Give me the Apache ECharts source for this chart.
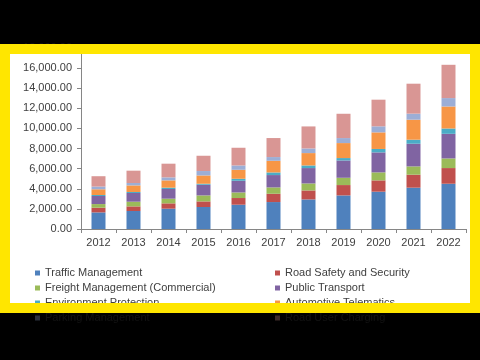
<!DOCTYPE html>
<html>
<head>
<meta charset="utf-8">
<script src="https://cdn.jsdelivr.net/npm/echarts@6/dist/echarts.min.js"></script>
<style>
  html, body { margin: 0; padding: 0; background: #000; width: 480px; height: 360px; overflow: hidden; }
  .lay { position: absolute; }
  #white { left: 10px; top: 54px; width: 460px; height: 249px; background: #fff; z-index: 0; }
  #chart { left: 0; top: 0; width: 480px; height: 360px; z-index: 1; }
  .yel { background: #FFE600; z-index: 2; }
  .dim { background: rgba(0,0,0,0.72); z-index: 2; }
</style>
</head>
<body>
<div id="white" class="lay"></div>
<div id="chart" class="lay"></div>
<div class="lay yel" style="left:0;top:44px;width:480px;height:10px"></div>
<div class="lay yel" style="left:0;top:303px;width:480px;height:10px"></div>
<div class="lay yel" style="left:0;top:44px;width:10px;height:269px"></div>
<div class="lay yel" style="left:470px;top:44px;width:10px;height:269px"></div>
<div class="lay dim" style="left:0;top:0;width:480px;height:44px"></div>
<div class="lay dim" style="left:0;top:313px;width:480px;height:47px"></div>
<script>
const years = ['2012','2013','2014','2015','2016','2017','2018','2019','2020','2021','2022'];
const seriesNames = ['Traffic Management','Road Safety and Security','Freight Management (Commercial)','Public Transport','Environment Protection','Automotive Telematics','Parking Management','Road User Charging'];
const trafficManagement   = [1650, 1790, 2020, 2190, 2415, 2680, 2940, 3340, 3710, 4110, 4500];
const roadSafety          = [470, 460, 530, 555, 665, 825, 895, 1030, 1125, 1290, 1560];
const freightManagement   = [360, 465, 465, 595, 555, 630, 695, 725, 795, 825, 955];
const publicTransport     = [800, 865, 965, 1060, 1160, 1230, 1530, 1720, 1990, 2255, 2450];
const environmentProtect  = [100, 100, 130, 100, 200, 260, 260, 240, 340, 400, 530];
const automotiveTelematic = [570, 655, 725, 825, 895, 1160, 1230, 1490, 1650, 1990, 2190];
const parkingManagement   = [270, 240, 300, 440, 430, 370, 460, 500, 600, 600, 835];
const roadUserCharging    = [1030, 1225, 1360, 1520, 1760, 1890, 2190, 2415, 2650, 2980, 3310];
const yTicks = { min: 0, max: 18000, interval: 2000 };

const seriesData = [trafficManagement, roadSafety, freightManagement, publicTransport,
                    environmentProtect, automotiveTelematic, parkingManagement, roadUserCharging];
const colors = ['#4F81BD','#C0504D','#9BBB59','#8064A2','#4BACC6','#F79646','#9CAED6','#D99694'];

function fmt(v) {
  const s = v.toFixed(2).split('.');
  return s[0].replace(/\B(?=(\d{3})+(?!\d))/g, ',') + '.' + s[1];
}

const chart = echarts.init(document.getElementById('chart'), null, { renderer: 'canvas' });
const textColor = '#404040';
const legendCommon = {
  orient: 'vertical',
  top: 265.5,
  itemWidth: 5,
  itemHeight: 5,
  itemGap: 0,
  itemTextGap: 3,
  icon: 'rect',
  selectedMode: false,
  padding: 0,
  textStyle: { fontFamily: 'Liberation Sans, Arial, sans-serif', fontSize: 11, color: textColor, lineHeight: 15 }
};
chart.setOption({
  backgroundColor: 'transparent',
  animation: false,
  color: colors,
  grid: { left: 81, right: 14, top: 48, bottom: 131, containLabel: false },
  legend: [
    Object.assign({ left: 35, data: [seriesNames[0], seriesNames[2], seriesNames[4], seriesNames[6]] }, legendCommon),
    Object.assign({ left: 275, data: [seriesNames[1], seriesNames[3], seriesNames[5], seriesNames[7]] }, legendCommon)
  ],
  xAxis: {
    type: 'category',
    data: years,
    boundaryGap: true,
    axisLine: { lineStyle: { color: '#868686', width: 1 } },
    axisTick: { show: true, length: 4, alignWithLabel: false, lineStyle: { color: '#868686' } },
    axisLabel: { margin: 8, color: textColor, fontSize: 11, fontFamily: 'Liberation Sans, Arial, sans-serif' },
    splitLine: { show: false }
  },
  yAxis: {
    type: 'value',
    min: yTicks.min, max: yTicks.max, interval: yTicks.interval,
    axisLine: { show: true, lineStyle: { color: '#868686', width: 1 } },
    axisTick: { show: true, length: 4, lineStyle: { color: '#868686' } },
    axisLabel: { margin: 9, color: textColor, fontSize: 11, fontFamily: 'Liberation Sans, Arial, sans-serif', formatter: fmt },
    splitLine: { show: false }
  },
  series: seriesNames.map((n, i) => ({
    name: n,
    type: 'bar',
    stack: 'total',
    barWidth: 14,
    data: seriesData[i],
    itemStyle: { color: colors[i] }
  }))
});
</script>
</body>
</html>
